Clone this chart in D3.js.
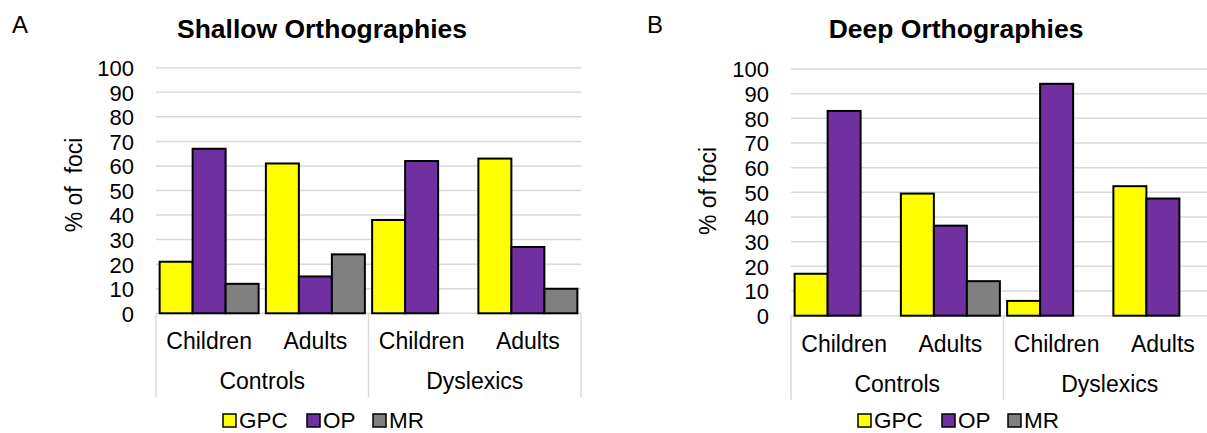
<!DOCTYPE html>
<html>
<head>
<meta charset="utf-8">
<script src="https://cdn.jsdelivr.net/npm/d3@7"></script>
<style>
  html, body { margin: 0; padding: 0; background: #fff; }
  svg { display: block; font-family: "Liberation Sans", Arial, sans-serif; }
</style>
</head>
<body>
<svg id="chart" width="1207" height="433"></svg>
<script>
// ---- data ----
const groups = ["Controls", "Dyslexics"];
const subgroups = ["Children", "Adults"];
const seriesNames = ["GPC", "OP", "MR"];
const seriesColors = ["#ffff00", "#7030a0", "#808080"];
const yTicks = [0, 10, 20, 30, 40, 50, 60, 70, 80, 90, 100];

// order: Controls-Children, Controls-Adults, Dyslexics-Children, Dyslexics-Adults
const shallowGPC = [21, 61, 38, 63];
const shallowOP  = [67, 15, 62, 27];
const shallowMR  = [12, 24, 0, 10];

const deepGPC = [17, 49.5, 6, 52.5];
const deepOP  = [83, 36.5, 94, 47.5];
const deepMR  = [0, 14, 0, 0];

const panels = [
  { letter: "A", title: "Shallow Orthographies", ylabel: "% of  foci",
    values: [shallowGPC, shallowOP, shallowMR],
    letterX: 12, titleX: 322, left: 156, top: 67.7, bottom: 313.3,
    tickX: 134, ylabX: 82, ylabY: 185, legendX: 223 },
  { letter: "B", title: "Deep Orthographies", ylabel: "% of foci",
    values: [deepGPC, deepOP, deepMR],
    letterX: 647, titleX: 956, left: 791, top: 69, bottom: 315.7,
    tickX: 769, ylabX: 716, ylabY: 191, legendX: 858 }
];

const svg = d3.select("#chart");
const plotW = 425;
const grid = "#d9d9d9";

panels.forEach(p => {
  const g = svg.append("g");
  const cats = [];
  groups.forEach(gr => subgroups.forEach(sg => cats.push(gr + "|" + sg)));

  const x0 = d3.scaleBand().domain(cats).range([p.left, p.left + plotW]).padding(0);
  const x1 = d3.scaleBand().domain(seriesNames).range([0, x0.bandwidth()])
    .paddingInner(0).paddingOuter(0.11);
  const y = d3.scaleLinear().domain([0, 100]).range([p.bottom, p.top]);
  const color = d3.scaleOrdinal().domain(seriesNames).range(seriesColors);

  // gridlines
  g.append("g").selectAll("line").data(yTicks).join("line")
    .attr("x1", p.left).attr("x2", p.left + plotW)
    .attr("y1", d => y(d)).attr("y2", d => y(d))
    .attr("stroke", grid).attr("stroke-width", 1.5);

  // y tick labels
  const yAxis = d3.axisLeft(y).tickValues(yTicks).tickSize(0).tickPadding(0);
  const ya = g.append("g").attr("transform", `translate(${p.tickX},0)`).call(yAxis);
  ya.select(".domain").remove();
  ya.selectAll("text").attr("font-size", 22).attr("fill", "#000")
    .attr("font-family", "Liberation Sans, Arial, sans-serif").attr("dy", "0.36em");

  // bars
  const rows = [];
  cats.forEach((c, i) => seriesNames.forEach((s, j) => {
    rows.push({ cat: c, series: s, value: p.values[j][i] });
  }));
  g.append("g").selectAll("rect").data(rows.filter(d => d.value > 0)).join("rect")
    .attr("x", d => x0(d.cat) + x1(d.series))
    .attr("width", x1.bandwidth())
    .attr("y", d => y(d.value))
    .attr("height", d => y(0) - y(d.value))
    .attr("fill", d => color(d.series))
    .attr("stroke", "#000").attr("stroke-width", 2);

  // category separators (multi-level axis)
  const sepX = [p.left, p.left + plotW / 2, p.left + plotW];
  g.append("g").selectAll("line").data(sepX).join("line")
    .attr("x1", d => d).attr("x2", d => d)
    .attr("y1", p.bottom).attr("y2", p.bottom + 84)
    .attr("stroke", grid).attr("stroke-width", 1.5);

  // subgroup labels
  g.append("g").selectAll("text").data(cats).join("text")
    .attr("x", d => x0(d) + x0.bandwidth() / 2)
    .attr("y", p.bottom + 36)
    .attr("text-anchor", "middle").attr("font-size", 23)
    .text(d => d.split("|")[1]);

  // group labels
  const xg = d3.scaleBand().domain(groups).range([p.left, p.left + plotW]);
  g.append("g").selectAll("text").data(groups).join("text")
    .attr("x", d => xg(d) + xg.bandwidth() / 2)
    .attr("y", p.bottom + 76)
    .attr("text-anchor", "middle").attr("font-size", 23)
    .text(d => d);

  // y label
  g.append("text")
    .attr("transform", `translate(${p.ylabX},${p.ylabY}) rotate(-90)`)
    .attr("text-anchor", "middle").attr("font-size", 23)
    .style("white-space", "pre").attr("xml:space", "preserve")
    .text(p.ylabel);

  // title
  g.append("text").attr("x", p.titleX).attr("y", 38)
    .attr("text-anchor", "middle").attr("font-size", 26.5).attr("font-weight", "bold")
    .text(p.title);

  // panel letter
  g.append("text").attr("x", p.letterX).attr("y", 33)
    .attr("font-size", 24).text(p.letter);

  // legend
  const legX = [0, 84, 150];
  const lg = g.append("g").attr("transform", `translate(${p.legendX},0)`);
  const li = lg.selectAll("g").data(seriesNames).join("g")
    .attr("transform", (d, i) => `translate(${legX[i]},0)`);
  li.append("rect").attr("x", 0).attr("y", 414).attr("width", 13).attr("height", 13)
    .attr("fill", d => color(d)).attr("stroke", "#000").attr("stroke-width", 1.5);
  li.append("text").attr("x", 16).attr("y", 428).attr("font-size", 22.5).text(d => d);
});
</script>
</body>
</html>
